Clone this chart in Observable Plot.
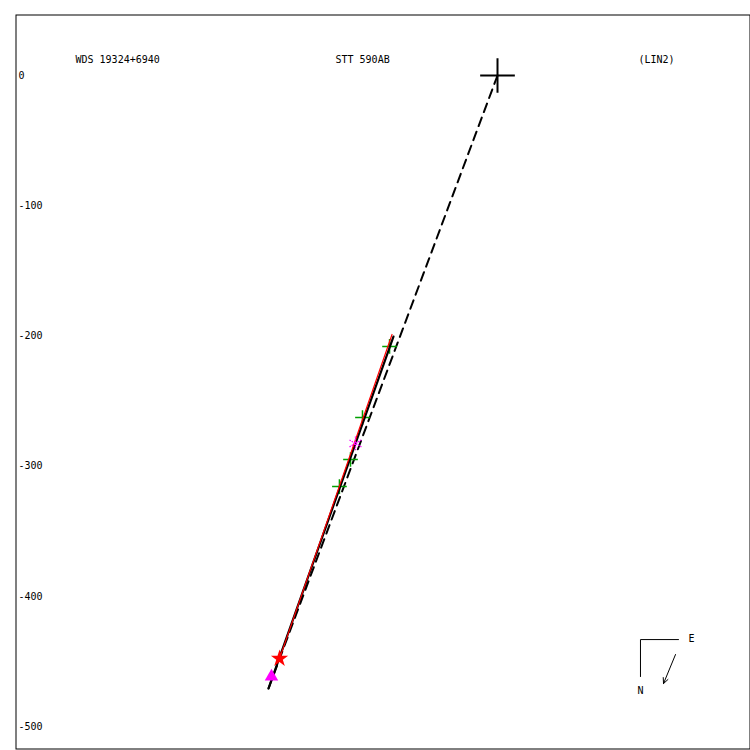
<!DOCTYPE html>
<html>
<head>
<meta charset="utf-8">
<script src="https://cdn.jsdelivr.net/npm/d3@7"></script>
<script src="https://cdn.jsdelivr.net/npm/@observablehq/plot@0.6"></script>
<style>
  html, body { margin: 0; padding: 0; background: #fff; }
  svg { display: block; }
</style>
</head>
<body>
<div id="chart"></div>
<script>
// ---- data (units) ----
const yTicks = [0, -100, -200, -300, -400, -500];
const titles = ["WDS 19324+6940", "STT 590AB", "(LIN2)"];

const primary = [{x: 0, y: 0}];
// green "+" measurements
const measX = [-82.9, -103.7, -112.9, -121.4];
const measY = [-208.1, -262.7, -294.9, -315.7];
// magenta asterisk
const astX = [-109.1];
const astY = [-282.6];
// red star (first measurement)
const starX = [-167.4];
const starY = [-447.8];
// magenta triangle
const triX = [-173.6];
const triY = [-461.6];
// linear fit (black solid)
const fitX = [-175.9, -79.9];
const fitY = [-470.8, -200.5];
// red line
const redX = [-81.0, -167.4];
const redY = [-198.9, -447.8];
// dashed line from primary
const dashX = [0, -175.9];
const dashY = [0, -470.8];
// compass
const compassX = [139.0, 109.8, 109.8];
const compassY = [-433.2, -433.2, -461.6];
const motionX = [136.7, 127.5];
const motionY = [-444.7, -467.0];
const compassLabels = ["E", "N"];
const compassLabelX = [146.7, 107.5];
const compassLabelY = [-432.4, -472.4];

const zip = (xs, ys) => xs.map((x, i) => ({x, y: ys[i]}));

const font = "DejaVu Sans Mono, monospace";

const chart = Plot.plot({
  width: 750,
  height: 750,
  margin: 0,
  x: {domain: [-381.7, 194.3], axis: null},
  y: {domain: [-518.4, 57.6], axis: null},
  style: {fontFamily: font, fontSize: "10px", background: "#fff"},
  marks: [
    Plot.frame({stroke: "#000", strokeWidth: 1, insetLeft: 15.5, insetTop: 14.5, insetRight: 0.5, insetBottom: 1.5}),
    // y tick labels inside the frame
    Plot.text(yTicks, {y: d => d, text: d => String(d), frameAnchor: "left", textAnchor: "start", dx: 18, fill: "#000", fontSize: 10}),
    // titles
    Plot.text([titles[0]], {frameAnchor: "top-left", dx: 75, dy: 55, textAnchor: "start", fill: "#000", fontSize: 10}),
    Plot.text([titles[1]], {frameAnchor: "top-left", dx: 335, dy: 55, textAnchor: "start", fill: "#000", fontSize: 10}),
    Plot.text([titles[2]], {frameAnchor: "top-left", dx: 638, dy: 55, textAnchor: "start", fill: "#000", fontSize: 10}),
    // dashed line from primary
    Plot.line(zip(dashX, dashY), {x: "x", y: "y", stroke: "#000", strokeWidth: 2, strokeDasharray: "9,6"}),
    // measurements
    Plot.dot(zip(measX, measY), {x: "x", y: "y", symbol: "plus", r: 4.8, stroke: "#00a000", strokeWidth: 1.5}),
    // fit lines
    Plot.line(zip(fitX, fitY), {x: "x", y: "y", stroke: "#000", strokeWidth: 2.2}),
    Plot.line(zip(redX, redY), {x: "x", y: "y", stroke: "#ff0000", strokeWidth: 1.2}),
    Plot.dot(zip(astX, astY), {x: "x", y: "y", symbol: "asterisk", r: 6.5, stroke: "#ff00ff", strokeWidth: 1.3, strokeDasharray: "1.5,1"}),
    Plot.dot(zip(triX, triY), {x: "x", y: "y", symbol: "triangle", r: 5, fill: "#ff00ff", stroke: "none"}),
    Plot.dot(zip(starX, starY), {x: "x", y: "y", symbol: "star", r: 5.4, fill: "#ff0000", stroke: "none"}),
    // primary
    Plot.dot(primary, {x: "x", y: "y", symbol: "plus", r: 11.2, stroke: "#000", strokeWidth: 2}),
    // compass
    Plot.line(zip(compassX, compassY), {x: "x", y: "y", stroke: "#000", strokeWidth: 1}),
    Plot.arrow([{x1: motionX[0], y1: motionY[0], x2: motionX[1], y2: motionY[1]}], {x1: "x1", y1: "y1", x2: "x2", y2: "y2", stroke: "#000", strokeWidth: 1, headLength: 9, headAngle: 50}),
    Plot.text(compassLabels.map((t, i) => ({t, x: compassLabelX[i], y: compassLabelY[i]})), {x: "x", y: "y", text: "t", textAnchor: "start", fill: "#000", fontSize: 10})
  ]
});
document.getElementById("chart").appendChild(chart);
</script>
</body>
</html>
